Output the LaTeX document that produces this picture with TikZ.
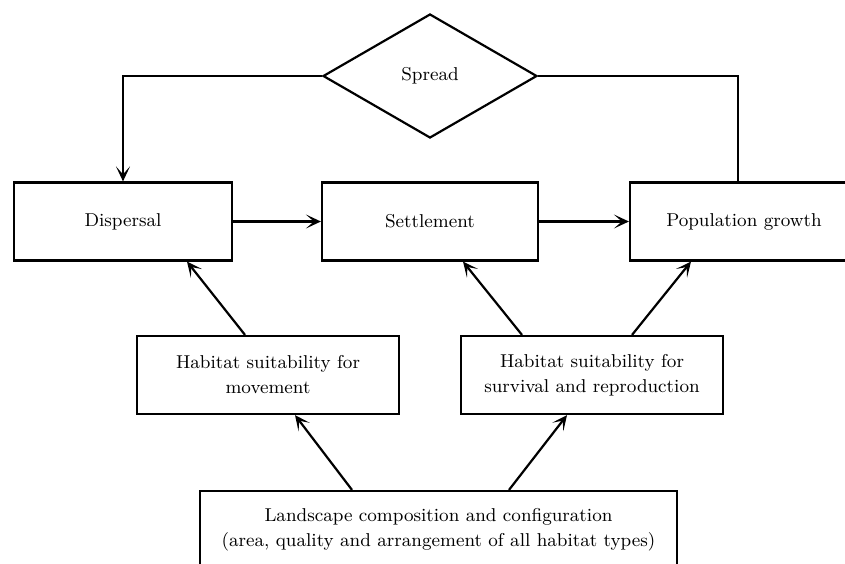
\documentclass[tikz,border=0pt]{standalone}
\usetikzlibrary{shapes.geometric,arrows.meta,calc}
\begin{document}
\begin{tikzpicture}[x=0.5pt, y=-0.5pt, line width=1.1pt, every node/.style={draw, font=\fontsize{9.3}{12.5}\selectfont, align=center, inner sep=0pt},%
        >={Stealth[length=7.5pt, width=7pt, inset=4pt]},
        box/.style={rectangle, minimum height=39pt}, decision/.style={diamond, minimum width=107pt, minimum height=62pt, aspect=1.73}]
        \useasboundingbox (0,0) rectangle (845,563);
        \clip (0,0) rectangle (845,563);
        \node[decision] (spread) at (430,76) {Spread};
        \node[box, minimum width=109pt] (dispersal) at (123,221.5) {Dispersal};
        \node[box, minimum width=108pt] (settlement) at (430,221.5) {Settlement};
        \node[box, minimum width=114pt] (growth) at (744,221.5) {Population growth};
        \node[box, minimum width=131pt] (movement) at (268,375) {Habitat suitability for\\movement};
        \node[box, minimum width=131pt] (survival) at (592,375) {Habitat suitability for\\survival and reproduction};
        \node[box, minimum width=238.5pt] (landscape) at (438.5,530) {Landscape composition and configuration\\(area, quality and arrangement of all habitat types)};
        \draw[->] (spread.west) -| (dispersal.north);
        \draw ($(growth.north)+(-6,0)$) |- (spread.east);
        \draw[->] (dispersal) -- (settlement);
        \draw[->] (settlement) -- (growth);
        \draw[->] ($(movement.north)+(-23,0)$) -- ($(dispersal.south)+(64,0)$);
        \draw[->] ($(survival.north)+(-70,0)$) -- ($(settlement.south)+(33,0)$);
        \draw[->] ($(survival.north)+(40,0)$) -- ($(growth.south)+(-53,0)$);
        \draw[->] ($(landscape.north)+(-86.5,0)$) -- ($(movement.south)+(27,0)$);
        \draw[->] ($(landscape.north)+(70.5,0)$) -- ($(survival.south)+(-25,0)$);
\end{tikzpicture}
\end{document}
